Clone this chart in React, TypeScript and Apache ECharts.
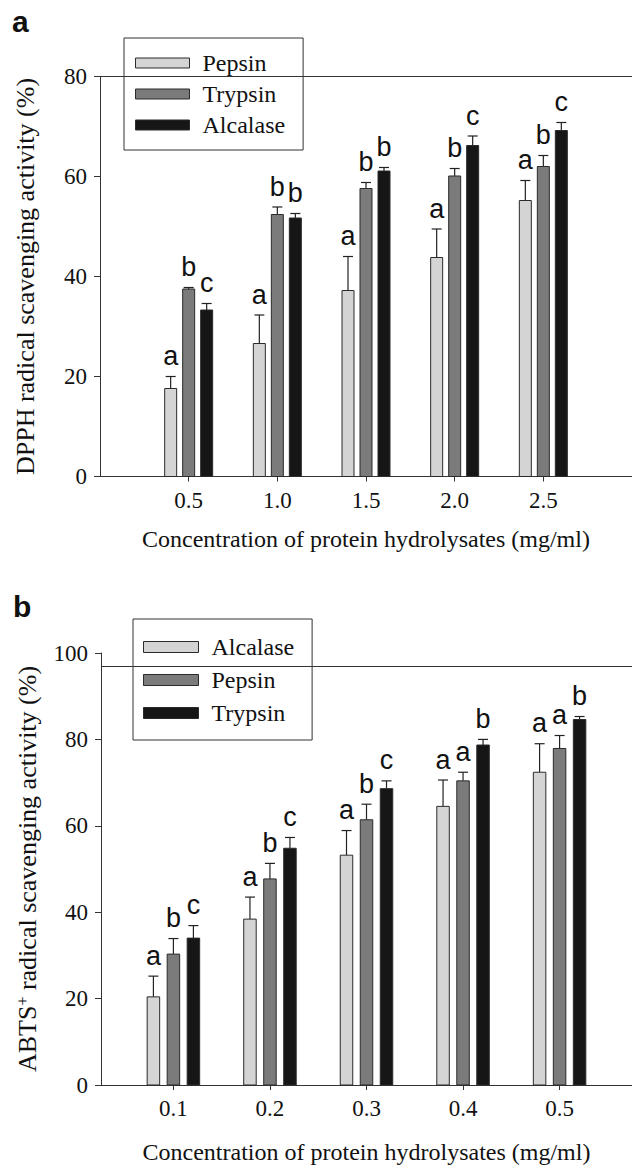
import React, { useEffect, useRef } from "react";
import * as echarts from "echarts";

// ---------- Panel a (DPPH) ----------
const concA = [0.5, 1.0, 1.5, 2.0, 2.5];
const tickLabelsA = ["0.5", "1.0", "1.5", "2.0", "2.5"];
const pepsinA = [17.6, 26.6, 37.2, 43.8, 55.2];
const pepsinErrA = [2.4, 5.7, 6.8, 5.7, 4.0];
const pepsinLetA = ["a", "a", "a", "a", "a"];
const trypsinA = [37.5, 52.4, 57.6, 60.1, 62.0];
const trypsinErrA = [0.3, 1.5, 1.2, 1.5, 2.2];
const trypsinLetA = ["b", "b", "b", "b", "b"];
const alcalaseA = [33.3, 51.7, 61.1, 66.2, 69.2];
const alcalaseErrA = [1.3, 0.9, 0.7, 1.9, 1.6];
const alcalaseLetA = ["c", "b", "b", "c", "c"];
const yTicksA = [0, 20, 40, 60, 80];

// ---------- Panel b (ABTS) ----------
const concB = [0.1, 0.2, 0.3, 0.4, 0.5];
const tickLabelsB = ["0.1", "0.2", "0.3", "0.4", "0.5"];
const alcalaseB = [20.4, 38.4, 53.2, 64.5, 72.4];
const alcalaseErrB = [4.8, 5.1, 5.7, 6.1, 6.6];
const alcalaseLetB = ["a", "a", "a", "a", "a"];
const pepsinB = [30.3, 47.7, 61.4, 70.4, 77.9];
const pepsinErrB = [3.6, 3.6, 3.6, 2.0, 3.0];
const pepsinLetB = ["b", "b", "b", "a", "a"];
const trypsinB = [34.0, 54.8, 68.6, 78.7, 84.6];
const trypsinErrB = [2.9, 2.5, 1.8, 1.3, 0.7];
const trypsinLetB = ["c", "c", "c", "b", "b"];
const yTicksB = [0, 20, 40, 60, 80, 100];

const LIGHT = "#d4d4d4";
const MID = "#7b7b7b";
const DARK = "#161616";
const EDGE = "#2b2b2b";
const SERIF = "Liberation Serif";
const SANS = "Liberation Sans";

function barSeries(
  name: string,
  xs: number[],
  vals: number[],
  errs: number[],
  letters: string[],
  color: string,
  offsetPx: number,
  barW: number,
  idx: number
) {
  return {
    type: "custom",
    name,
    xAxisIndex: idx,
    yAxisIndex: idx,
    itemStyle: { color, borderColor: EDGE, borderWidth: 1 },
    data: xs.map((x, i) => [x, vals[i], errs[i]]),
    encode: { x: 0, y: 1 },
    renderItem: (params: any, api: any) => {
      const x = api.value(0);
      const v = api.value(1);
      const e = api.value(2);
      const letter = letters[params.dataIndex];
      const base = api.coord([x, 0]);
      const top = api.coord([x, v]);
      const et = api.coord([x, v + e]);
      const cx = base[0] + offsetPx;
      return {
        type: "group",
        children: [
          {
            type: "line",
            shape: { x1: cx, y1: top[1], x2: cx, y2: et[1] },
            style: { stroke: "#222", lineWidth: 1.2 },
          },
          {
            type: "line",
            shape: { x1: cx - 5, y1: et[1], x2: cx + 5, y2: et[1] },
            style: { stroke: "#222", lineWidth: 1.2 },
          },
          {
            type: "rect",
            shape: { x: cx - barW / 2, y: top[1], width: barW, height: base[1] - top[1] },
            style: { fill: color, stroke: EDGE, lineWidth: 1 },
          },
          {
            type: "text",
            x: cx,
            y: et[1] - 7,
            style: {
              text: letter,
              fill: "#111",
              fontSize: 27,
              fontFamily: SANS,
              align: "center",
              verticalAlign: "bottom",
            },
          },
        ],
      };
    },
  };
}

function frameSeries(idx: number, yVal: number) {
  return {
    type: "line",
    name: "frame" + idx,
    xAxisIndex: idx,
    yAxisIndex: idx,
    data: [],
    silent: true,
    markLine: {
      silent: true,
      symbol: "none",
      label: { show: false },
      lineStyle: { color: "#333", width: 1, type: "solid" },
      emphasis: { disabled: true },
      data: [{ yAxis: yVal }],
    },
  };
}

export default function App() {
  const ref = useRef<HTMLDivElement>(null);
  useEffect(() => {
    if (!ref.current) return;
    const chart = echarts.init(ref.current, null, { renderer: "svg" });
    const axisLine = { show: true, lineStyle: { color: "#333", width: 1 } };
    const yAxisCommon = (max: number, ticks: number[], gridIndex: number) => ({
      type: "value",
      gridIndex,
      min: 0,
      max,
      interval: 20,
      axisLine,
      axisTick: { show: true, inside: false, length: 6, lineStyle: { color: "#333" }, customValues: ticks },
      axisLabel: {
        customValues: ticks,
        fontFamily: SERIF,
        fontSize: 23,
        color: "#111",
        margin: 13,
      },
      splitLine: { show: false },
      nameLocation: "middle",
      nameRotate: 90,
    });
    const xAxisCommon = (
      min: number,
      max: number,
      xs: number[],
      labels: string[],
      gridIndex: number,
      nameGap: number
    ) => ({
      type: "value",
      gridIndex,
      min,
      max,
      axisLine,
      axisTick: { show: true, inside: false, length: 5, lineStyle: { color: "#333" }, customValues: xs },
      axisLabel: {
        customValues: xs,
        formatter: (v: number) => {
          const i = xs.findIndex((c) => Math.abs(c - v) < 1e-9);
          return i >= 0 ? labels[i] : "";
        },
        fontFamily: SERIF,
        fontSize: 23,
        color: "#111",
        margin: 12,
      },
      splitLine: { show: false },
      name: "Concentration of protein hydrolysates (mg/ml)",
      nameLocation: "middle",
      nameGap,
      nameTextStyle: { fontFamily: SERIF, fontSize: 24, color: "#111" },
    });

    const legendText = { fontFamily: SERIF, fontSize: 24, color: "#111", padding: [0, 0, 0, 8] };
    const legendCommon = {
      orient: "vertical",
      icon: "rect",
      backgroundColor: "#fff",
      borderColor: "#333",
      borderWidth: 1,
      borderRadius: 0,
      selectedMode: false,
      itemStyle: { borderColor: EDGE, borderWidth: 1 },
      textStyle: legendText,
    };

    chart.setOption({
      animation: false,
      textStyle: { fontFamily: SERIF },
      grid: [
        { left: 100, top: 76.5, width: 537, height: 400 },
        { left: 101, top: 653, width: 544.5, height: 432.7 },
      ],
      xAxis: [
        xAxisCommon(0, 3, concA, tickLabelsA, 0, 50),
        xAxisCommon(0.025, 0.575, concB, tickLabelsB, 1, 55),
      ],
      yAxis: [
        {
          ...yAxisCommon(80, yTicksA, 0),
          name: "DPPH radical scavenging activity (%)",
          nameGap: 62,
          nameTextStyle: { fontFamily: SERIF, fontSize: 26, color: "#111" },
        },
        {
          ...yAxisCommon(100, yTicksB, 1),
          name: "{n|ABTS}{s|+}{n| radical scavenging activity (%)}",
          nameGap: 61,
          nameTextStyle: {
            fontFamily: SERIF,
            fontSize: 26,
            color: "#111",
            rich: {
              n: { fontFamily: SERIF, fontSize: 26, color: "#111" },
              s: { fontFamily: SERIF, fontSize: 16, color: "#111", verticalAlign: "top" },
            },
          },
        },
      ],
      legend: [
        {
          ...legendCommon,
          left: 124,
          top: 38,
          padding: [13, 18, 13, 11],
          itemGap: 7,
          itemWidth: 54,
          itemHeight: 10,
          data: [
            { name: "Pepsin", itemStyle: { color: LIGHT }, textStyle: legendText },
            { name: "Trypsin", itemStyle: { color: MID }, textStyle: legendText },
            { name: "Alcalase", itemStyle: { color: DARK }, textStyle: legendText },
          ],
        },
        {
          ...legendCommon,
          left: 133,
          top: 619,
          padding: [16, 18, 15, 10],
          itemGap: 9,
          itemWidth: 55,
          itemHeight: 11,
          data: [
            { name: "Alcalase", itemStyle: { color: LIGHT }, textStyle: legendText },
            { name: "Pepsin", itemStyle: { color: MID }, textStyle: legendText },
            { name: "Trypsin", itemStyle: { color: DARK }, textStyle: legendText },
          ],
        },
      ],
      graphic: [
        { type: "text", left: 12, top: 6, style: { text: "a", fontSize: 30, fontWeight: "bold", fontFamily: SANS, fill: "#111" } },
        { type: "text", left: 13, top: 591, style: { text: "b", fontSize: 30, fontWeight: "bold", fontFamily: SANS, fill: "#111" } },
      ],
      series: [
        frameSeries(0, 80),
        frameSeries(1, 97),
        barSeries("Pepsin", concA, pepsinA, pepsinErrA, pepsinLetA, LIGHT, -18, 12, 0),
        barSeries("Trypsin", concA, trypsinA, trypsinErrA, trypsinLetA, MID, 0, 12, 0),
        barSeries("Alcalase", concA, alcalaseA, alcalaseErrA, alcalaseLetA, DARK, 18, 12, 0),
        barSeries("Alcalase", concB, alcalaseB, alcalaseErrB, alcalaseLetB, LIGHT, -20, 12.5, 1),
        barSeries("Pepsin", concB, pepsinB, pepsinErrB, pepsinLetB, MID, 0, 12.5, 1),
        barSeries("Trypsin", concB, trypsinB, trypsinErrB, trypsinLetB, DARK, 20, 12.5, 1),
      ],
    });
    return () => chart.dispose();
  }, []);
  return (
    <div
      ref={ref}
      style={{ position: "absolute", left: 0, top: 0, width: 632, height: 1165, background: "#fff" }}
    />
  );
}
